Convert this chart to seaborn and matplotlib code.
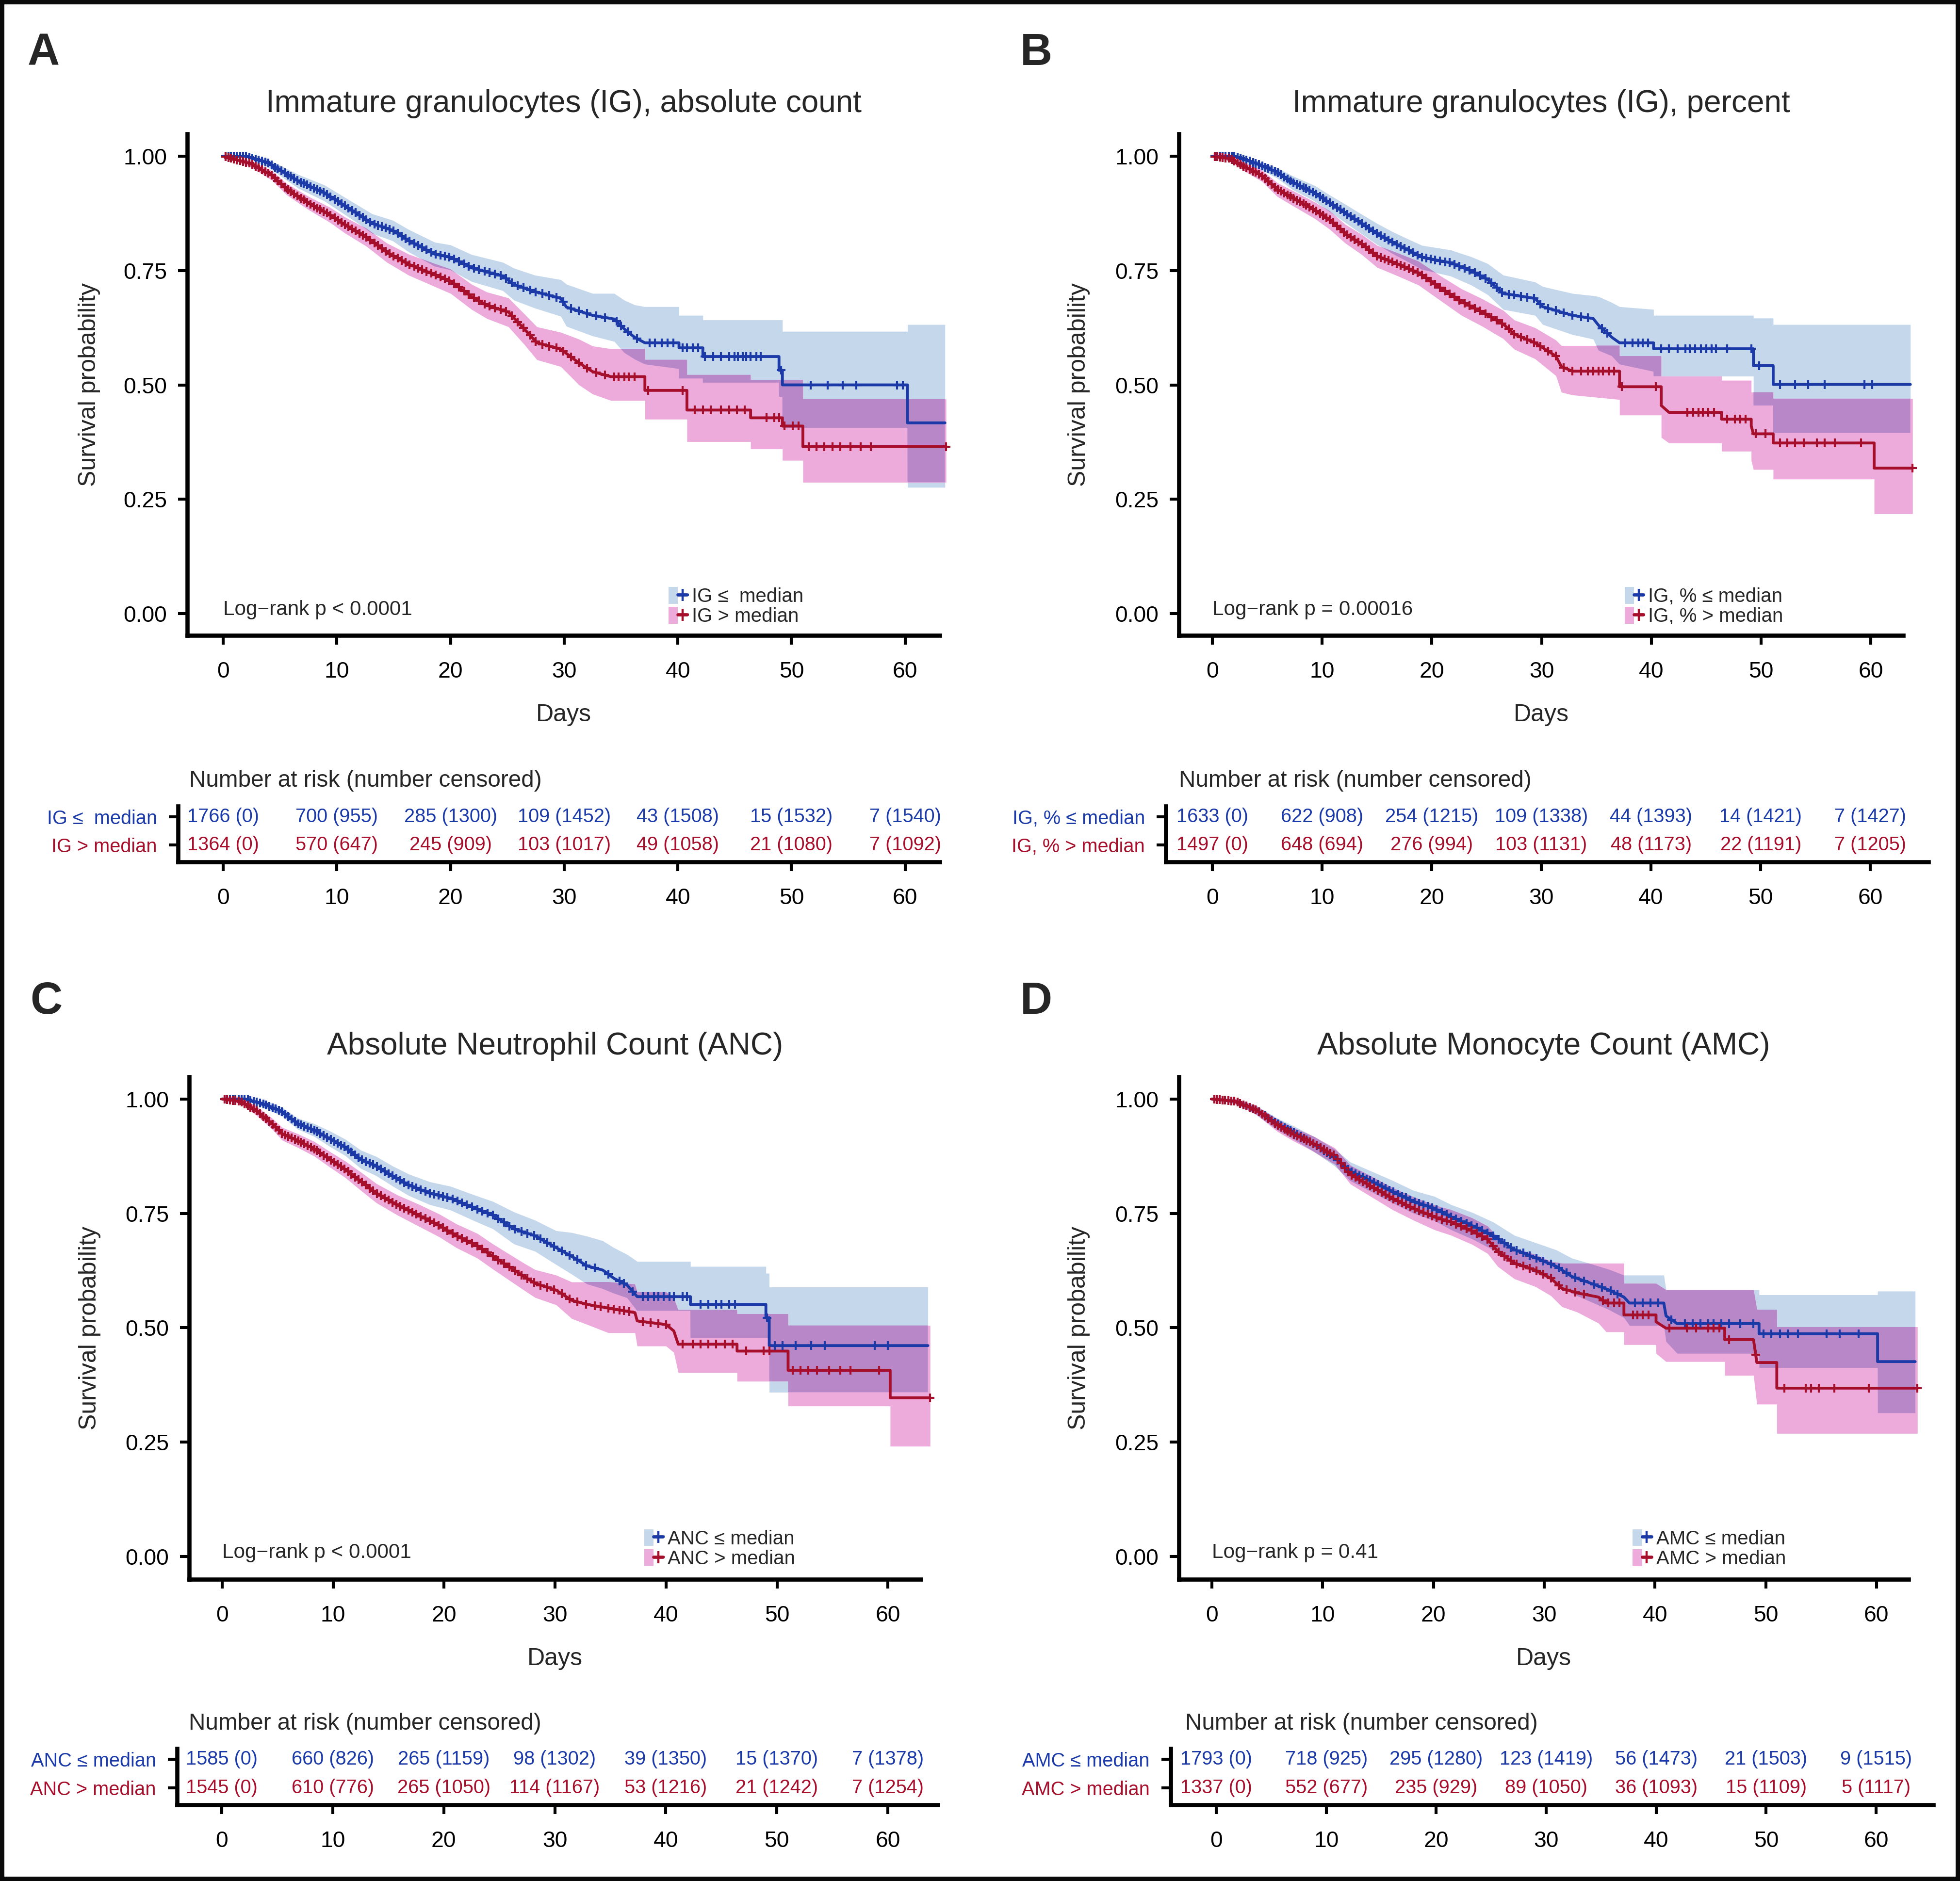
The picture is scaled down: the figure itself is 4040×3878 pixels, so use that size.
import numpy as np
import matplotlib
matplotlib.use("Agg")
import matplotlib.pyplot as plt
import seaborn as sns
from matplotlib.patches import Patch, Rectangle
from matplotlib.lines import Line2D
from matplotlib.legend_handler import HandlerTuple
from matplotlib.ticker import FormatStrFormatter

sns.set_style("ticks")
plt.rcParams['font.family'] = ['Liberation Sans', 'DejaVu Sans']

# ---------------------------------------------------------------- data
day_ticks = [0, 10, 20, 30, 40, 50, 60]
surv_ticks = [0.0, 0.25, 0.50, 0.75, 1.0]

early_censor = [0.2, 0.45, 0.7, 0.95, 1.2, 1.5, 1.75, 2.0, 2.3, 2.55, 2.85, 3.1, 3.4, 3.7, 3.95, 4.25,
                4.55, 4.8, 5.1, 5.4, 5.7, 5.95, 6.25, 6.55, 6.85, 7.1, 7.4, 7.7, 8.0, 8.3, 8.55, 8.85,
                9.15, 9.45, 9.8, 10.1, 10.4, 10.7, 11.0, 11.35, 11.65, 12.0, 12.3, 12.6, 12.95, 13.3,
                13.6, 13.95, 14.3, 14.65, 15.0, 15.35, 15.7, 16.05, 16.4, 16.8, 17.15, 17.5, 17.9,
                18.3, 18.7, 19.1, 19.5, 19.9, 20.3, 20.75, 21.2, 21.6, 22.05, 22.5, 23.0, 23.45, 23.9,
                24.4, 24.9, 25.4, 25.9, 26.4, 27.0, 27.5, 28.1, 28.7, 29.3, 29.9, 30.6, 31.3, 32.0,
                32.8, 33.6]

# Panel A : IG absolute count
a_low_t = [0, 2.0, 3.8, 6.6, 8.9, 11.7, 13.1, 14.9, 16.3, 18.6, 20.0, 21.85, 24.6, 25.6, 27.4, 29.7, 30.2,
           32.5, 34.4, 35.3, 36.2, 37.1, 40.1, 40.1, 42.2, 42.2, 48.9, 48.9, 49.2, 49.2, 60.2, 60.2, 63.5]
a_low_s = [1.0, 1.0, 0.987, 0.946, 0.92, 0.876, 0.853, 0.838, 0.816, 0.786, 0.779, 0.756, 0.738, 0.719, 0.704,
           0.689, 0.670, 0.652, 0.644, 0.622, 0.604, 0.592, 0.592, 0.581, 0.581, 0.562, 0.562, 0.532, 0.532,
           0.50, 0.50, 0.417, 0.417]
a_low_hi = [1.0, 1.0, 0.995, 0.96, 0.937, 0.895, 0.874, 0.86, 0.84, 0.812, 0.806, 0.785, 0.768, 0.755, 0.74,
            0.73, 0.72, 0.70, 0.70, 0.685, 0.675, 0.671, 0.671, 0.652, 0.652, 0.642, 0.642, 0.642, 0.642,
            0.617, 0.617, 0.632, 0.632]
a_low_lo = [1.0, 0.998, 0.978, 0.93, 0.902, 0.856, 0.831, 0.815, 0.791, 0.759, 0.751, 0.726, 0.706, 0.685,
            0.668, 0.65, 0.628, 0.607, 0.595, 0.57, 0.556, 0.545, 0.535, 0.514, 0.514, 0.505, 0.505, 0.474,
            0.474, 0.406, 0.406, 0.276, 0.276]
a_low_cens = [34.6, 35.0, 35.6, 36.4, 37.5, 38.0, 38.6, 39.1, 39.6, 40.4, 40.8, 41.3, 41.8, 42.4, 43.1, 43.8,
              44.5, 45.0, 45.3, 45.7, 46.0, 46.4, 46.9, 47.3, 49.1, 51.7, 53.2, 54.5, 55.7, 59.3, 59.8]

a_high_t = [0, 2.4, 4.3, 5.6, 7.5, 9.4, 10.7, 12.6, 14.4, 16.3, 18.6, 20.0, 21.85, 23.2, 25.1, 26.5, 27.6,
            29.7, 31.3, 32.5, 34.1, 37.1, 37.1, 40.8, 40.8, 46.4, 46.4, 49.2, 49.2, 51.0, 51.0, 63.6]
a_high_s = [1.0, 0.984, 0.958, 0.928, 0.898, 0.872, 0.85, 0.823, 0.79, 0.764, 0.741, 0.727, 0.693, 0.674,
            0.659, 0.622, 0.592, 0.578, 0.548, 0.529, 0.518, 0.518, 0.488, 0.488, 0.445, 0.445, 0.428,
            0.428, 0.41, 0.41, 0.365, 0.365]
a_high_hi = [1.0, 0.99, 0.968, 0.94, 0.912, 0.888, 0.867, 0.842, 0.81, 0.786, 0.765, 0.753, 0.72, 0.703,
             0.69, 0.655, 0.627, 0.615, 0.60, 0.585, 0.579, 0.579, 0.555, 0.555, 0.522, 0.522, 0.511,
             0.511, 0.511, 0.511, 0.469, 0.469]
a_high_lo = [1.0, 0.977, 0.947, 0.915, 0.883, 0.855, 0.832, 0.803, 0.768, 0.74, 0.715, 0.70, 0.665, 0.645,
             0.627, 0.588, 0.555, 0.54, 0.50, 0.48, 0.466, 0.466, 0.425, 0.425, 0.376, 0.376, 0.36, 0.36,
             0.335, 0.335, 0.287, 0.287]
a_high_cens = [34.4, 34.8, 35.3, 35.7, 36.2, 37.4, 40.4, 41.5, 42.2, 42.9, 43.8, 44.5, 45.2, 45.9, 47.8,
               48.5, 48.9, 49.4, 50.1, 50.6, 51.5, 52.2, 52.9, 53.6, 54.3, 55.2, 56.1, 57.0, 63.6]

a_low_risk_n = [1766, 700, 285, 109, 43, 15, 7]
a_low_risk_c = [0, 955, 1300, 1452, 1508, 1532, 1540]
a_high_risk_n = [1364, 570, 245, 103, 49, 21, 7]
a_high_risk_c = [0, 647, 909, 1017, 1058, 1080, 1092]

# Panel B : IG percent
b_low_t = [0, 2.1, 4.0, 5.9, 7.3, 9.3, 10.7, 12.1, 13.6, 15.0, 16.4, 17.9, 19.1, 21.7, 23.6, 25.1, 26.5,
           29.4, 30.1, 32.8, 34.7, 35.2, 36.4, 37.1, 40.2, 40.2, 49.3, 49.3, 51.1, 51.1, 63.6]
b_low_s = [1.0, 1.0, 0.984, 0.965, 0.943, 0.92, 0.898, 0.876, 0.853, 0.831, 0.812, 0.794, 0.779, 0.767,
           0.749, 0.73, 0.70, 0.689, 0.671, 0.652, 0.645, 0.63, 0.604, 0.592, 0.592, 0.579, 0.579, 0.542,
           0.542, 0.501, 0.501]
b_low_hi = [1.0, 1.0, 0.99, 0.975, 0.957, 0.936, 0.915, 0.895, 0.873, 0.853, 0.835, 0.818, 0.805, 0.795,
            0.78, 0.765, 0.74, 0.725, 0.715, 0.70, 0.695, 0.693, 0.68, 0.671, 0.665, 0.652, 0.652, 0.646,
            0.646, 0.632, 0.632]
b_low_lo = [1.0, 0.998, 0.976, 0.952, 0.927, 0.902, 0.878, 0.855, 0.83, 0.807, 0.787, 0.768, 0.752, 0.738,
            0.718, 0.697, 0.665, 0.652, 0.632, 0.61, 0.60, 0.575, 0.563, 0.545, 0.529, 0.519, 0.519, 0.455,
            0.455, 0.395, 0.395]
b_low_cens = [34.2, 35.5, 36.0, 37.6, 38.3, 38.8, 39.2, 39.7, 40.9, 41.6, 42.4, 43.1, 43.5, 44.0, 44.5, 45.0,
              45.5, 45.9, 46.9, 49.1, 49.8, 51.7, 53.1, 54.3, 55.8, 59.4, 60.1]

b_high_t = [0, 1.6, 3.0, 4.5, 5.9, 7.3, 9.3, 10.7, 12.1, 13.6, 15.0, 16.9, 18.8, 20.8, 22.7, 24.6, 26.5,
            27.5, 29.4, 31.3, 31.8, 32.8, 37.1, 37.1, 40.9, 40.9, 41.6, 46.4, 46.4, 49.1, 49.1, 49.3, 51.1,
            51.1, 60.3, 60.3, 63.8]
b_high_s = [1.0, 0.995, 0.976, 0.958, 0.928, 0.909, 0.883, 0.861, 0.831, 0.808, 0.782, 0.764, 0.745, 0.712,
            0.682, 0.659, 0.633, 0.611, 0.592, 0.563, 0.54, 0.53, 0.53, 0.496, 0.496, 0.455, 0.44, 0.44,
            0.425, 0.425, 0.41, 0.393, 0.393, 0.373, 0.373, 0.318, 0.318]
b_high_hi = [1.0, 1.0, 0.986, 0.97, 0.942, 0.925, 0.9, 0.88, 0.851, 0.829, 0.805, 0.788, 0.77, 0.738, 0.71,
             0.688, 0.663, 0.642, 0.625, 0.598, 0.586, 0.586, 0.586, 0.563, 0.563, 0.519, 0.519, 0.519,
             0.51, 0.51, 0.484, 0.484, 0.484, 0.47, 0.47, 0.47, 0.47]
b_high_lo = [1.0, 0.99, 0.966, 0.945, 0.912, 0.892, 0.864, 0.84, 0.81, 0.785, 0.757, 0.738, 0.718, 0.684,
             0.652, 0.628, 0.601, 0.578, 0.557, 0.52, 0.484, 0.478, 0.468, 0.434, 0.434, 0.385, 0.373,
             0.373, 0.355, 0.355, 0.335, 0.315, 0.315, 0.294, 0.294, 0.218, 0.218]
b_high_cens = [34.2, 34.7, 35.2, 35.6, 36.1, 36.6, 37.3, 40.4, 43.3, 43.8, 44.3, 44.7, 45.2, 45.7, 46.9,
               47.6, 48.1, 48.6, 49.5, 50.4, 51.7, 52.4, 53.1, 53.9, 55.1, 55.8, 56.7, 59.1, 63.8]

b_low_risk_n = [1633, 622, 254, 109, 44, 14, 7]
b_low_risk_c = [0, 908, 1215, 1338, 1393, 1421, 1427]
b_high_risk_n = [1497, 648, 276, 103, 48, 22, 7]
b_high_risk_c = [0, 694, 994, 1131, 1173, 1191, 1205]

# Panel C : ANC
c_low_t = [0, 2.1, 4.0, 5.4, 6.8, 8.3, 9.7, 11.1, 12.5, 13.9, 15.4, 16.8, 18.7, 20.6, 22.5, 24.4, 26.3,
           28.2, 30.1, 31.5, 32.9, 34.3, 35.3, 36.5, 37.4, 42.2, 42.2, 49.0, 49.0, 49.3, 49.3, 63.6]
c_low_s = [1.0, 1.0, 0.987, 0.972, 0.946, 0.932, 0.913, 0.894, 0.868, 0.853, 0.831, 0.8125, 0.794, 0.783,
           0.764, 0.746, 0.716, 0.701, 0.675, 0.656, 0.635, 0.626, 0.608, 0.593, 0.568, 0.568, 0.551, 0.551,
           0.522, 0.522, 0.461, 0.461]
c_low_hi = [1.0, 1.0, 0.995, 0.982, 0.958, 0.946, 0.93, 0.912, 0.888, 0.874, 0.853, 0.836, 0.819, 0.809,
            0.792, 0.776, 0.753, 0.735, 0.712, 0.708, 0.70, 0.69, 0.675, 0.66, 0.645, 0.645, 0.634, 0.634,
            0.619, 0.619, 0.589, 0.589]
c_low_lo = [1.0, 0.998, 0.979, 0.962, 0.934, 0.918, 0.896, 0.876, 0.848, 0.832, 0.809, 0.789, 0.769, 0.757,
            0.736, 0.716, 0.683, 0.667, 0.638, 0.617, 0.595, 0.585, 0.575, 0.565, 0.537, 0.537, 0.478, 0.478,
            0.478, 0.478, 0.359, 0.359]
c_low_cens = [34.8, 35.8, 36.2, 37.0, 37.9, 38.4, 38.9, 39.3, 39.8, 40.3, 40.7, 41.5, 41.9, 43.1, 43.8, 44.5,
              45.0, 45.7, 46.2, 49.1, 49.8, 50.5, 51.7, 53.1, 54.3, 58.8, 60.0]

c_high_t = [0, 1.6, 3.0, 4.5, 5.4, 6.8, 8.3, 9.7, 11.1, 12.5, 13.9, 15.8, 17.7, 19.6, 21.1, 23.0, 24.4,
            25.8, 27.2, 28.2, 30.1, 31.5, 32.9, 34.8, 37.2, 37.4, 40.0, 40.7, 41.1, 46.4, 46.4, 51.0, 51.0,
            60.2, 60.2, 63.8]
c_high_s = [1.0, 0.995, 0.976, 0.946, 0.924, 0.909, 0.891, 0.868, 0.846, 0.82, 0.794, 0.768, 0.746, 0.723,
            0.701, 0.679, 0.656, 0.634, 0.612, 0.597, 0.582, 0.56, 0.551, 0.543, 0.533, 0.515, 0.507, 0.493,
            0.464, 0.464, 0.449, 0.449, 0.407, 0.407, 0.347, 0.347]
c_high_hi = [1.0, 1.0, 0.986, 0.958, 0.938, 0.924, 0.907, 0.885, 0.864, 0.84, 0.815, 0.79, 0.77, 0.748,
             0.727, 0.706, 0.683, 0.662, 0.641, 0.627, 0.615, 0.60, 0.60, 0.60, 0.595, 0.578, 0.578, 0.565,
             0.539, 0.539, 0.53, 0.53, 0.505, 0.505, 0.505, 0.505]
c_high_lo = [1.0, 0.99, 0.966, 0.934, 0.91, 0.894, 0.875, 0.851, 0.828, 0.8, 0.773, 0.746, 0.722, 0.698,
             0.675, 0.652, 0.628, 0.605, 0.582, 0.566, 0.55, 0.52, 0.507, 0.489, 0.489, 0.46, 0.46, 0.446,
             0.402, 0.402, 0.383, 0.383, 0.329, 0.329, 0.241, 0.241]
c_high_cens = [34.1, 34.8, 35.3, 35.8, 36.2, 36.7, 37.9, 38.6, 39.3, 40.0, 41.5, 42.4, 43.1, 43.8, 44.5,
               45.3, 46.0, 47.2, 48.8, 49.3, 51.4, 52.1, 52.8, 53.6, 54.7, 55.7, 56.6, 59.2, 63.8]

c_low_risk_n = [1585, 660, 265, 98, 39, 15, 7]
c_low_risk_c = [0, 826, 1159, 1302, 1350, 1370, 1378]
c_high_risk_n = [1545, 610, 265, 114, 53, 21, 7]
c_high_risk_c = [0, 776, 1050, 1167, 1216, 1242, 1254]

# Panel D : AMC
d_low_t = [0, 2.1, 4.0, 5.9, 7.3, 9.2, 11.1, 12.5, 14.4, 16.3, 18.2, 20.1, 21.6, 23.5, 25.4, 27.3, 29.2,
           31.1, 32.5, 33.9, 35.8, 37.2, 37.7, 40.8, 41.0, 42.0, 49.4, 49.4, 60.1, 60.1, 63.5]
d_low_s = [1.0, 0.995, 0.976, 0.946, 0.928, 0.902, 0.872, 0.842, 0.82, 0.798, 0.776, 0.761, 0.742, 0.723,
           0.701, 0.671, 0.653, 0.634, 0.612, 0.60, 0.583, 0.567, 0.554, 0.554, 0.526, 0.509, 0.509, 0.487,
           0.487, 0.426, 0.426]
d_low_hi = [1.0, 1.0, 0.985, 0.958, 0.942, 0.918, 0.89, 0.862, 0.842, 0.822, 0.80, 0.787, 0.769, 0.752,
            0.731, 0.702, 0.686, 0.67, 0.652, 0.642, 0.628, 0.615, 0.615, 0.615, 0.583, 0.583, 0.583, 0.572,
            0.572, 0.58, 0.58]
d_low_lo = [1.0, 0.99, 0.966, 0.933, 0.913, 0.885, 0.853, 0.821, 0.797, 0.773, 0.75, 0.734, 0.714, 0.694,
            0.67, 0.639, 0.62, 0.599, 0.575, 0.56, 0.54, 0.522, 0.505, 0.505, 0.47, 0.444, 0.444, 0.413,
            0.413, 0.314, 0.314]
d_low_cens = [34.5, 35.2, 36.0, 36.6, 38.2, 38.9, 39.6, 40.3, 41.5, 42.7, 43.4, 44.1, 44.8, 45.3, 46.0, 46.7,
              47.7, 48.9, 49.8, 50.5, 51.3, 52.0, 52.9, 55.5, 56.7, 58.4]

d_high_t = [0, 2.1, 4.0, 5.9, 7.3, 9.2, 11.1, 12.5, 14.4, 16.3, 18.2, 20.1, 21.6, 23.5, 24.9, 25.8, 27.3,
            29.2, 30.6, 31.6, 33.0, 34.9, 35.6, 37.2, 37.2, 40.1, 40.1, 41.0, 46.3, 46.3, 48.9, 49.2, 51.0,
            51.0, 63.7]
d_high_s = [1.0, 0.995, 0.976, 0.943, 0.924, 0.902, 0.876, 0.835, 0.809, 0.783, 0.761, 0.742, 0.731, 0.712,
            0.693, 0.667, 0.641, 0.626, 0.608, 0.586, 0.576, 0.567, 0.554, 0.554, 0.528, 0.528, 0.513, 0.499,
            0.499, 0.474, 0.474, 0.424, 0.424, 0.368, 0.368]
d_high_hi = [1.0, 1.0, 0.985, 0.956, 0.938, 0.918, 0.893, 0.855, 0.831, 0.806, 0.786, 0.768, 0.758, 0.74,
             0.722, 0.698, 0.674, 0.66, 0.645, 0.641, 0.641, 0.641, 0.641, 0.641, 0.597, 0.597, 0.597, 0.583,
             0.583, 0.583, 0.583, 0.54, 0.54, 0.502, 0.502]
d_high_lo = [1.0, 0.99, 0.966, 0.929, 0.909, 0.885, 0.857, 0.814, 0.786, 0.758, 0.735, 0.714, 0.702, 0.682,
             0.662, 0.634, 0.607, 0.59, 0.57, 0.546, 0.534, 0.51, 0.491, 0.491, 0.463, 0.463, 0.444, 0.426,
             0.426, 0.396, 0.396, 0.333, 0.333, 0.269, 0.269]
d_high_cens = [35.3, 35.8, 36.3, 36.8, 38.0, 38.4, 38.9, 39.4, 41.3, 42.9, 43.7, 44.8, 45.3, 45.8, 46.7,
               49.1, 51.7, 53.6, 54.1, 54.8, 56.2, 59.3, 63.7]

d_low_risk_n = [1793, 718, 295, 123, 56, 21, 9]
d_low_risk_c = [0, 925, 1280, 1419, 1473, 1503, 1515]
d_high_risk_n = [1337, 552, 235, 89, 36, 15, 5]
d_high_risk_c = [0, 677, 929, 1050, 1093, 1109, 1117]

titles = ["Immature granulocytes (IG), absolute count", "Immature granulocytes (IG), percent",
          "Absolute Neutrophil Count (ANC)", "Absolute Monocyte Count (AMC)"]
group_labels = [("IG \u2264  median", "IG > median"), ("IG, % \u2264 median", "IG, % > median"),
                ("ANC \u2264 median", "ANC > median"), ("AMC \u2264 median", "AMC > median")]
pvalues = ["Log\u2212rank p < 0.0001", "Log\u2212rank p = 0.00016",
           "Log\u2212rank p < 0.0001", "Log\u2212rank p = 0.41"]
letters = ["A", "B", "C", "D"]

# ---------------------------------------------------------------- style
BLUE = '#1B3AA8'
RED = '#A50F2C'
BAND_BLUE = '#C5D7EB'
BAND_PINK = '#EDABDC'
BAND_PURPLE = '#B787C7'

W, H, DPI = 4040, 3878, 200
fig = plt.figure(figsize=(W / DPI, H / DPI), dpi=DPI, facecolor='white')


def rect(x0, y0, x1, y1):
    return [x0 / W, 1 - y1 / H, (x1 - x0) / W, (y1 - y0) / H]


layout = [
    dict(box=(386, 276, 1937, 1310), xlim=(-3.16, 63.04), ylim=(-0.0477, 1.0488), ylab_x=184, title_y=214,
         leg=(0.6396, 0.019), tbox=(367, 1662, 1937, 1777), txlim=(-3.97, 63.04), ttl=(390, 1610),
         letter=(57, 67)),
    dict(box=(2430, 276, 3923, 1310), xlim=(-3.05, 62.95), ylim=(-0.0477, 1.0488), ylab_x=2224, title_y=214,
         leg=(0.6155, 0.019), tbox=(2403, 1662, 3975, 1777), txlim=(-4.24, 65.3), ttl=(2430, 1610),
         letter=(2103, 67)),
    dict(box=(390, 2219.5, 1898, 3256), xlim=(-2.97, 62.96), ylim=(-0.0498, 1.049), ylab_x=185, title_y=2157,
         leg=(0.622, 0.022), tbox=(365, 3605, 1933, 3721), txlim=(-4.02, 64.5), ttl=(389, 3553),
         letter=(62, 2023)),
    dict(box=(2430, 2219.5, 3934, 3256), xlim=(-2.98, 62.9), ylim=(-0.0498, 1.049), ylab_x=2224, title_y=2157,
         leg=(0.622, 0.022), tbox=(2413, 3605, 3985, 3721), txlim=(-4.15, 65.2), ttl=(2443, 3553),
         letter=(2103, 2023)),
]

curves = [
    ((a_low_t, a_low_s, a_low_lo, a_low_hi, a_low_cens), (a_high_t, a_high_s, a_high_lo, a_high_hi, a_high_cens)),
    ((b_low_t, b_low_s, b_low_lo, b_low_hi, b_low_cens), (b_high_t, b_high_s, b_high_lo, b_high_hi, b_high_cens)),
    ((c_low_t, c_low_s, c_low_lo, c_low_hi, c_low_cens), (c_high_t, c_high_s, c_high_lo, c_high_hi, c_high_cens)),
    ((d_low_t, d_low_s, d_low_lo, d_low_hi, d_low_cens), (d_high_t, d_high_s, d_high_lo, d_high_hi, d_high_cens)),
]
risks = [
    ((a_low_risk_n, a_low_risk_c), (a_high_risk_n, a_high_risk_c)),
    ((b_low_risk_n, b_low_risk_c), (b_high_risk_n, b_high_risk_c)),
    ((c_low_risk_n, c_low_risk_c), (c_high_risk_n, c_high_risk_c)),
    ((d_low_risk_n, d_low_risk_c), (d_high_risk_n, d_high_risk_c)),
]

SPINE_LW = 3.1
TICK_W = 2.2
TICK_L = 7.0


def style_axes(ax):
    for side in ['top', 'right']:
        ax.spines[side].set_visible(False)
    for side in ['left', 'bottom']:
        ax.spines[side].set_linewidth(SPINE_LW)
        ax.spines[side].set_color('black')
    ax.tick_params(axis='both', direction='out', length=TICK_L, width=TICK_W, color='black',
                   labelcolor='black', labelsize=16.7)
    ax.tick_params(axis='x', pad=12.0)
    ax.tick_params(axis='y', pad=8.0)
    ax.set_facecolor('none')


for i in range(4):
    L = layout[i]
    low, high = curves[i]
    ax = fig.add_axes(rect(*L['box']))
    ax.set_xlim(*L['xlim'])
    ax.set_ylim(*L['ylim'])
    style_axes(ax)

    # confidence bands
    for cv, fc in [(low, BAND_BLUE), (high, BAND_PINK)]:
        ax.fill_between(cv[0], cv[2], cv[3], color=fc, lw=0, zorder=1, clip_on=False)
    end = min(low[0][-1], high[0][-1])
    grid = np.arange(0.005, end, 0.01)
    lo_b = np.interp(grid, low[0], low[2])
    hi_b = np.interp(grid, low[0], low[3])
    lo_r = np.interp(grid, high[0], high[2])
    hi_r = np.interp(grid, high[0], high[3])
    top = np.minimum(hi_b, hi_r)
    bot = np.maximum(lo_b, lo_r)
    ax.fill_between(grid, bot, top, where=top > bot, color=BAND_PURPLE, lw=0, zorder=2, clip_on=False)

    # survival curves + censor marks
    for cv, col in [(low, BLUE), (high, RED)]:
        sns.lineplot(x=cv[0], y=cv[1], ax=ax, color=col, lw=2.1, sort=False, estimator=None,
                     legend=False, zorder=3, clip_on=False)
    for cv, col in [(low, BLUE), (high, RED)]:
        ct = np.array(early_censor + cv[4])
        cy = np.interp(ct, cv[0], cv[1])
        ax.plot(ct, cy, ls='none', marker='+', ms=6.5, mew=1.5, color=col, zorder=4, clip_on=False)

    ax.set_xticks(day_ticks)
    ax.set_yticks(surv_ticks)
    ax.yaxis.set_major_formatter(FormatStrFormatter('%.2f'))

    ax.set_xlabel('Days', fontsize=18)
    ax.xaxis.set_label_coords(0.5, -164 / (L['box'][3] - L['box'][1]))
    ax.xaxis.label.set_va('center')
    ax.set_ylabel('Survival probability', fontsize=18)
    ax.yaxis.set_label_coords((L['ylab_x'] - L['box'][0]) / (L['box'][2] - L['box'][0]), 0.5)
    ax.yaxis.label.set_va('center')

    ax.text(0.5, 1 + (L['box'][1] - L['title_y']) / (L['box'][3] - L['box'][1]), titles[i],
            transform=ax.transAxes, ha='center', va='center', fontsize=23)
    ax.text(0, 0.008, pvalues[i], ha='left', va='center', fontsize=15.2)

    handles = [(Patch(facecolor=BAND_BLUE, edgecolor='none'),
                Line2D([], [], color=BLUE, lw=2.4, marker='+', ms=9, mew=1.6)),
               (Patch(facecolor=BAND_PINK, edgecolor='none'),
                Line2D([], [], color=RED, lw=2.4, marker='+', ms=9, mew=1.6))]
    ax.legend(handles, list(group_labels[i]), handler_map={tuple: HandlerTuple(ndivide=None)},
              loc='lower left', bbox_to_anchor=L['leg'], frameon=False, fontsize=14.5,
              handlelength=0.95, handleheight=0.95, handletextpad=0.25, labelspacing=0.05,
              borderpad=0, borderaxespad=0)

    # risk table
    tx = fig.add_axes(rect(*L['tbox']))
    tx.set_xlim(*L['txlim'])
    tx.set_ylim(0.40, 2.38)
    style_axes(tx)
    tx.tick_params(axis='y', pad=8.5)
    tx.set_xticks(day_ticks)
    tx.set_yticks([2, 1])
    tx.set_yticklabels(list(group_labels[i]), fontsize=14.3)
    for lab, col in zip(tx.get_yticklabels(), [BLUE, RED]):
        lab.set_color(col)
    for (n_list, c_list), row, col in zip(risks[i], [2, 1], [BLUE, RED]):
        for t, n, c in zip(day_ticks, n_list, c_list):
            tx.text(t, row, f"{n} ({c})", ha='center', va='center', color=col, fontsize=14.3)
    fig.text(L['ttl'][0] / W, 1 - L['ttl'][1] / H, "Number at risk (number censored)",
             ha='left', va='center', fontsize=17.2)

    fig.text(L['letter'][0] / W, 1 - L['letter'][1] / H, letters[i], ha='left', va='top',
             fontsize=33, fontweight='heavy')

fig.add_artist(Rectangle((0, 0), 1, 1, transform=fig.transFigure, fill=False, lw=6.5,
                         edgecolor='#0a0a0a'))

fig.savefig('out.png', dpi=DPI, facecolor='white')
